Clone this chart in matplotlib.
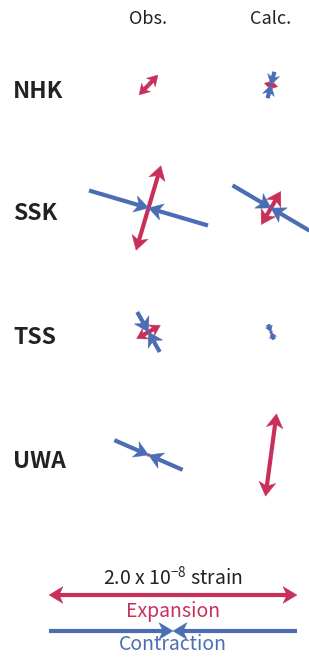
#!/usr/bin/env python3
# -*- coding: UTF-8 -*-

"""
主歪み図 (観測 / 計算)
"""

import numpy as np
import matplotlib
matplotlib.use('Agg')
from matplotlib import pyplot as plt
from matplotlib.patches import Polygon

# 観測点
stations = ['NHK', 'SSK', 'TSS', 'UWA']
columns = ['Obs.', 'Calc.']

# 主歪み (単位 1e-8), 伸張軸の方位角 (北から時計回り, 度)
obs_expansion = [0.22, 0.71, 0.22, 0.03]
obs_contraction = [0.01, 1.00, 0.37, 0.60]
obs_azimuth = [43.5, 16.4, 60.6, 23.5]

calc_expansion = [0.11, 0.31, 0.03, 0.67]
calc_contraction = [0.22, 0.72, 0.13, 0.01]
calc_azimuth = [104.5, 30.5, 69.0, 7.6]

legend_strain = 2.0

RED = '#C8305A'
BLUE = '#4A6DB3'
SCALE = 124.0      # 1e-8 strain あたりのピクセル長
LW = 3.0

col_x = [148.5, 271.0]
row_y = [85.0, 208.0, 332.0, 455.0]


def _head(ax, tip, d, size, color):
    """矢じりを描く (tip: 先端, d: 向き)"""
    _n = np.array([-d[1], d[0]])
    _l = size
    _w = size * 0.6
    _pts = [tip,
            tip - _l * d + _w * _n,
            tip - 0.72 * _l * d,
            tip - _l * d - _w * _n]
    ax.add_patch(Polygon(_pts, closed=True, facecolor=color,
                         edgecolor=color, lw=0.3, zorder=3))
    return tip - 0.72 * _l * d


def draw_axis(ax, center, value, azimuth, color, outward):
    """主歪み軸を描く"""
    _half = value * SCALE / 2.0
    if _half < 0.5:
        return
    _a = np.radians(azimuth)
    _d = np.array([np.sin(_a), -np.cos(_a)])
    _c = np.array(center)
    _size = min(14.0, 0.75 * _half)
    _lw = min(LW, 0.6 * _half)
    for _s in (1, -1):
        _dd = _d * _s
        _end = _c + _half * _dd
        if outward:
            _base = _head(ax, _end, _dd, _size, color)
            ax.plot([_c[0], _base[0]], [_c[1], _base[1]], color=color,
                    lw=_lw, solid_capstyle='butt', zorder=2)
        else:
            _base = _head(ax, _c, -_dd, _size, color)
            ax.plot([_end[0], _base[0]], [_end[1], _base[1]], color=color,
                    lw=_lw, solid_capstyle='butt', zorder=2)


fig = plt.figure(figsize=(3.09, 6.58), dpi=100)
ax = fig.add_axes([0, 0, 1, 1])
ax.set_xlim(0, 309)
ax.set_ylim(658, 0)
ax.axis('off')

_font = ['Noto Sans CJK JP', 'DejaVu Sans']
plt.rcParams['font.family'] = _font

for _i, _name in enumerate(columns):
    ax.text(col_x[_i], 19, _name, ha='center', va='center', fontsize=13,
            color='#222222')

_data = [(obs_expansion, obs_contraction, obs_azimuth),
         (calc_expansion, calc_contraction, calc_azimuth)]
for _j, _st in enumerate(stations):
    ax.text(13, row_y[_j] + 6, _st, ha='left', va='center', fontsize=16.5,
            fontweight='bold', color='#222222')
    for _i, (_exp, _con, _az) in enumerate(_data):
        _center = (col_x[_i], row_y[_j])
        draw_axis(ax, _center, _exp[_j], _az[_j], RED, True)
        draw_axis(ax, _center, _con[_j], _az[_j] + 90, BLUE, False)

# 凡例
_lx = 173.0
ax.text(_lx, 578, '2.0 x 10$^{\\mathregular{-8}}$ strain', ha='center',
        va='center', fontsize=14, color='#222222')
draw_axis(ax, (_lx, 595), legend_strain, 90, RED, True)
ax.text(_lx, 611, 'Expansion', ha='center', va='center', fontsize=14,
        color=RED)
draw_axis(ax, (_lx, 631), legend_strain, 90, BLUE, False)
ax.text(_lx, 645, 'Contraction', ha='center', va='center', fontsize=14,
        color=BLUE)

fig.savefig('out.png', dpi=100)
